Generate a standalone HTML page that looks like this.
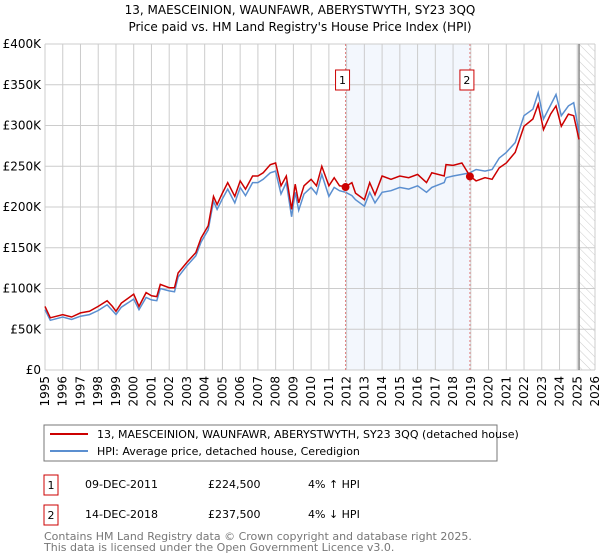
<!DOCTYPE html>
<html><head><meta charset="utf-8"><style>
body{margin:0;background:#fff;font-family:"DejaVu Sans","Liberation Sans",sans-serif;}
svg{display:block}
</style></head><body>
<svg id="c" width="600" height="560" xmlns="http://www.w3.org/2000/svg">
<text x="300" y="14" text-anchor="middle" font-size="12" fill="#000">13, MAESCEINION, WAUNFAWR, ABERYSTWYTH, SY23 3QQ</text>
<text x="300" y="31" text-anchor="middle" font-size="12" fill="#000">Price paid vs. HM Land Registry's House Price Index (HPI)</text>
<g id="plot"></g>
<rect x="44" y="425" width="453" height="36" fill="#fff" stroke="#777"/>
<line x1="50" y1="434" x2="88" y2="434" stroke="#cc0000" stroke-width="2"/>
<text x="97" y="438" font-size="11">13, MAESCEINION, WAUNFAWR, ABERYSTWYTH, SY23 3QQ (detached house)</text>
<line x1="50" y1="451" x2="88" y2="451" stroke="#5b8fd0" stroke-width="2"/>
<text x="97" y="455" font-size="11">HPI: Average price, detached house, Ceredigion</text>
<g>
<rect x="44" y="475" width="14" height="20" fill="#fff" stroke="#cc0000"/>
<text x="51" y="489" font-size="11" text-anchor="middle">1</text>
<text x="85" y="488" font-size="11">09-DEC-2011</text>
<text x="208" y="488" font-size="11">£224,500</text>
<text x="308" y="488" font-size="11">4% ↑ HPI</text>
</g>
<g>
<rect x="44" y="505" width="14" height="20" fill="#fff" stroke="#cc0000"/>
<text x="51" y="519" font-size="11" text-anchor="middle">2</text>
<text x="85" y="518" font-size="11">14-DEC-2018</text>
<text x="208" y="518" font-size="11">£237,500</text>
<text x="308" y="518" font-size="11">4% ↓ HPI</text>
</g>
<text x="44" y="540" font-size="11" fill="#777">Contains HM Land Registry data © Crown copyright and database right 2025.</text>
<text x="44" y="551" font-size="11" fill="#777">This data is licensed under the Open Government Licence v3.0.</text>
</svg>
<script>
const years=[1995.0,1995.3,1996,1996.5,1997,1997.5,1998,1998.5,1998.8,1999,1999.3,2000,2000.3,2000.7,2001,2001.3,2001.5,2002,2002.3,2002.5,2003,2003.5,2003.8,2004.2,2004.5,2004.7,2005,2005.3,2005.7,2006,2006.3,2006.7,2007,2007.3,2007.7,2008,2008.3,2008.6,2008.9,2009.1,2009.3,2009.6,2010,2010.3,2010.6,2011,2011.3,2011.6,2011.95,2012.3,2012.5,2013,2013.3,2013.6,2014,2014.5,2015,2015.5,2016,2016.5,2016.8,2017.5,2017.6,2018,2018.5,2018.95,2019.3,2019.8,2020.2,2020.6,2021,2021.5,2022,2022.5,2022.8,2023.1,2023.5,2023.8,2024.1,2024.5,2024.8,2025.1];
const propertyValues=[78,64,68,65,70,72,78,85,78,72,82,93,78,95,91,90,105,101,101,119,132,144,162,177,213,203,217,230,213,232,222,238,238,242,252,254,226,238,197,228,205,226,234,226,250,226,236,226,225,230,217,209,230,215,238,234,238,236,240,230,242,238,252,251,254,238,232,236,234,248,254,267,299,308,326,295,314,324,299,314,312,283];
const hpiValues=[74,61,65,62,66,68,73,80,73,68,77,87,74,89,86,85,100,97,96,114,128,140,157,172,207,197,210,222,205,224,214,230,230,234,242,244,216,230,188,218,196,216,224,216,240,213,224,220,218,214,209,201,218,205,218,220,224,222,226,218,224,230,236,238,240,242,246,244,246,260,267,279,312,320,340,308,325,338,312,324,328,291];
const yTicks=[0,50,100,150,200,250,300,350,400];
const xTicks=[1995,1996,1997,1998,1999,2000,2001,2002,2003,2004,2005,2006,2007,2008,2009,2010,2011,2012,2013,2014,2015,2016,2017,2018,2019,2020,2021,2022,2023,2024,2025,2026];
const sales=[{n:"1",y:2011.94,v:224.5},{n:"2",y:2018.95,v:237.5}];
const X0=45,X1=595,Y0=370,Y1=44;
const xs=y=>X0+(y-1995)/31*(X1-X0);
const ys=v=>Y0-v/400*(Y0-Y1);
const NS="http://www.w3.org/2000/svg";
const g=document.getElementById('plot');
function mk(t,a){const e=document.createElementNS(NS,t);for(const k in a)e.setAttribute(k,a[k]);g.appendChild(e);return e;}
// shaded region
let sh=mk('rect',{x:xs(sales[0].y),y:Y1,width:xs(sales[1].y)-xs(sales[0].y),height:Y0-Y1,fill:'#eef3fc',opacity:0.7});


// hatch
const defs=document.createElementNS(NS,'defs');defs.innerHTML='<pattern id="h" width="6" height="6" patternUnits="userSpaceOnUse" patternTransform="rotate(-45)"><line x1="0" y1="0" x2="0" y2="6" stroke="#ccc" stroke-width="1"/></pattern>';g.appendChild(defs);
let ht=mk('rect',{x:xs(2025.1),y:Y1,width:X1-xs(2025.1),height:Y0-Y1,fill:'url(#h)'});


for(const t of yTicks){
 let l=mk('line',{x1:X0,x2:X1,y1:ys(t),y2:ys(t),stroke:'#ccc','stroke-width':1});
 
 
 let tx=mk('text',{x:X0-4,y:ys(t)+4,'text-anchor':'end','font-size':12});
 
 
 tx.textContent=t===0?'£0':'£'+t+'K';
}
for(const t of xTicks){
 let l=mk('line',{x1:xs(t),x2:xs(t),y1:Y1,y2:Y0,stroke:'#ccc','stroke-width':1});
 
 
 let tx=mk('text',{x:0,y:0,'text-anchor':'end','font-size':12,transform:`translate(${xs(t)+4},${Y0+6}) rotate(-90)`});
 
 
 tx.textContent=t;
}
let vl=mk('line',{x1:xs(2025.1),x2:xs(2025.1),y1:Y1,y2:Y0,stroke:'#888','stroke-width':1.5});


function pts(arr){return years.map((y,i)=>xs(y).toFixed(1)+','+ys(arr[i]).toFixed(1)).join(' ');}
let hl=mk('polyline',{points:pts(hpiValues),fill:'none',stroke:'#5b8fd0','stroke-width':1.5});


let pl=mk('polyline',{points:pts(propertyValues),fill:'none',stroke:'#cc0000','stroke-width':1.5});


for(const s of sales){
 let l=mk('line',{x1:xs(s.y),x2:xs(s.y),y1:Y1,y2:Y0,stroke:'#e08080','stroke-width':1,'stroke-dasharray':'2,2'});
 
 
 let d=mk('circle',{cx:xs(s.y),cy:ys(s.v),r:4,fill:'#cc0000'});
 
 
 let b=mk('rect',{x:xs(s.y)-10,y:70,width:14,height:20,fill:'#fff',stroke:'#cc0000'});
 
 
 let t=mk('text',{x:xs(s.y)-3,y:84,'text-anchor':'middle','font-size':11});
 
 
 t.textContent=s.n;
}
</script>
</body></html>
